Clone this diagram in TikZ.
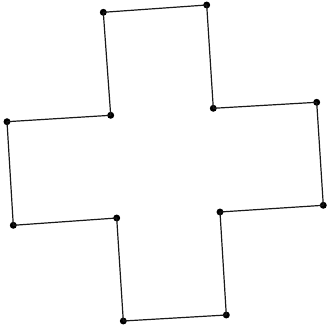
\documentclass[tikz,border=0pt]{standalone}
\usepackage{tikz}

\begin{document}
\begin{tikzpicture}[x=0.75pt,y=-0.75pt,
    vtx/.style={circle,fill=black,inner sep=0pt,minimum size=5.2pt},
    edge/.style={draw=black!90,line width=0.9pt,line join=round}]
    \useasboundingbox (0,0) rectangle (328,332);
    % corners of the cross, clockwise from top left
    \foreach \name/\x/\y in {a/103.3/12.3, b/206.7/5, c/213.3/108.3, d/316.7/102.3,
        e/323.3/205.3, f/220/212, g/226.3/315, h/123.3/321,
        i/116.7/218, j/13.3/225.3, k/7/121.7, l/110.7/115.3}
      \node[vtx] (\name) at (\x,\y) {};
    \draw[edge] (a.center)--(b.center)--(c.center)--(d.center)--(e.center)--(f.center)
      --(g.center)--(h.center)--(i.center)--(j.center)--(k.center)--(l.center)--cycle;
  \end{tikzpicture}
\end{document}
